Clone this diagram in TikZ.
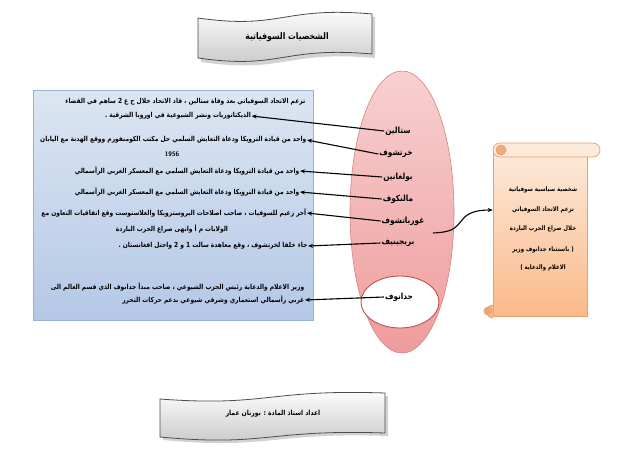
\documentclass[tikz,border=0pt]{standalone}
\usepackage{fontspec}
\usepackage{graphicx}
\usetikzlibrary{arrows.meta,shapes.geometric,calc}
\newfontfamily\arabicfont[Script=Arabic]{DejaVu Sans Bold}
\TeXXeTstate=1
\newcommand{\ar}[1]{\scalebox{0.86}[1]{\arabicfont\beginR #1\endR}}
\definecolor{boxtop}{HTML}{DCE6F2}
\definecolor{boxbot}{HTML}{B4C8E6}
\definecolor{boxline}{HTML}{95B3D7}
\definecolor{elltop}{HTML}{F8D0D0}
\definecolor{ellbot}{HTML}{EE9C9C}
\definecolor{ellline}{HTML}{C0504D}
\definecolor{scrtop}{HTML}{FDEADA}
\definecolor{scrbot}{HTML}{FAB98A}
\definecolor{scrline}{HTML}{E8A070}
\tikzset{
  boxtext/.style={font=\fontsize{6.9}{8}\selectfont, inner sep=0.5pt},
  nametext/.style={font=\fontsize{8.5}{9}\selectfont, inner sep=1pt},
  scrtext/.style={font=\fontsize{6.3}{7}\selectfont, inner sep=0.5pt},
  conn/.style={-{Stealth[length=5pt,width=4pt]}, line width=1.1pt, black},
  bannerfill/.style={top color=white, bottom color=gray!45, draw=gray!60!black, line width=0.8pt}
}
\begin{document}
\begin{tikzpicture}[x=1pt,y=-1pt]
\useasboundingbox (0,0) rectangle (640,448);
\fill[white] (0,0) rectangle (640,448);

% title banner
\fill[gray!35] (201,21) .. controls (285,33) and (285,9) .. (375,17) -- (375,58) .. controls (285,50) and (285,74) .. (201,62) -- cycle;
\path[bannerfill] (198,18) .. controls (282,30) and (282,6) .. (372,14) -- (372,54) .. controls (282,46) and (282,70) .. (198,58) -- cycle;
\node[font=\fontsize{9}{10}\selectfont] (title) at (287,37) {\ar{الشخصيات السوفياتية}};

% bottom banner
\fill[gray!35] (163,402) .. controls (270,410) and (270,392) .. (388,396) -- (388,436) .. controls (270,432) and (270,450) .. (163,440) -- cycle;
\path[bannerfill] (160,399) .. controls (267,407) and (267,389) .. (385,393) -- (385,433) .. controls (267,429) and (267,447) .. (160,437) -- cycle;
\node[font=\fontsize{7}{8}\selectfont] (author) at (273,414) {\ar{اعداد استاذ المادة : بورنان عمار}};

% blue box
\path[top color=boxtop, bottom color=boxbot, draw=boxline, line width=0.8pt] (33,90) rectangle (313,320);

% box texts
\node[boxtext, anchor=east] (t1) at (306,102) {\ar{تزعم الاتحاد السوفياتي بعد وفاة ستالين ، قاد الاتحاد خلال ح ع 2 ساهم في القضاء}};
\node[boxtext] (t1b) at (178,116) {\ar{الديكتاتوريات ونشر الشيوعية في اوروبا الشرقية .}};
\node[boxtext, anchor=east] (t2) at (307,140) {\ar{واحد من قيادة الترويكا ودعاة التعايش السلمي حل مكتب الكومنفورم ووقع الهدنة مع اليابان}};
\node[boxtext, font=\fontsize{6.5}{7}\selectfont\bfseries\sffamily] (t2b) at (172,154) {1956};
\node[boxtext, anchor=east] (t3) at (300,171) {\ar{واحد من قيادة الترويكا ودعاة التعايش السلمي مع المعسكر الغربي الرأسمالي}};
\node[boxtext, anchor=east] (t4) at (300,192) {\ar{واحد من قيادة الترويكا ودعاة التعايش السلمي مع المعسكر الغربي الرأسمالي}};
\node[boxtext, anchor=east] (t5) at (307,213) {\ar{آخر زعيم للسوفيات ، صاحب اصلاحات البروسترويكا والغلاسنوست وقع اتفاقيات التعاون مع}};
\node[boxtext] (t5b) at (172,229) {\ar{الولايات م أ وانهى صراع الحرب الباردة}};
\node[boxtext, anchor=east] (t6) at (308,246) {\ar{جاء خلفا لخرتشوف ، وقع معاهدة سالت 1 و 2 واحتل افغانستان .}};
\node[boxtext, anchor=east] (t7) at (305,287) {\ar{وزير الاعلام والدعاية رئيس الحزب الشيوعي ، صاحب مبدأ جدانوف الذي قسم العالم الى}};
\node[boxtext, anchor=east] (t7b) at (305,300) {\ar{غربي رأسمالي استعماري وشرقي شيوعي بدعم حركات التحرر}};

% pink ellipse
\node[ellipse, minimum width=104pt, minimum height=282pt, top color=elltop, bottom color=ellbot, draw=ellline!70, line width=0.6pt] (ell) at (402,212) {};
\node[ellipse, minimum width=78pt, minimum height=52pt, fill=white, draw=ellline, line width=0.9pt] (inner) at (400,302) {};

% names
\node[nametext] (n1) at (398,131) {\ar{ستالين}};
\node[nametext] (n2) at (396,154) {\ar{خرتشوف}};
\node[nametext] (n3) at (398,177) {\ar{بولغانين}};
\node[nametext] (n4) at (398,199) {\ar{مالنكوف}};
\node[nametext] (n5) at (403,221) {\ar{غورباتشوف}};
\node[nametext] (n6) at (398,243) {\ar{بريجينيف}};
\node[nametext] (n7) at (399,297) {\ar{جدانوف}};

% arrows
\draw[conn] (n1.west) -- (t1b.east);
\draw[conn] (n2.west) -- (t2.east);
\draw[conn] (n3.west) -- (t3.east);
\draw[conn] (n4.west) -- (t4.east);
\draw[conn] (n5.west) -- (t5.east);
\draw[conn] (n6.west) -- (t6.east);
\draw[conn] (n7.west) -- (t7b.east);

% scroll
\path[top color=scrtop, bottom color=scrbot, draw=scrline, line width=0.7pt] (493,150) rectangle (587,316);
\node[inner sep=0pt, minimum width=94pt, minimum height=166pt] (scroll) at (540,233) {};
\path[fill=scrtop, draw=scrline, line width=0.7pt, rounded corners=7pt] (493,143) rectangle (600,157);
\fill[scrbot!80!brown] (501,150) circle (5pt);
\draw[scrline, line width=0.7pt] (501,150) circle (5pt);
\path[fill=scrbot, draw=scrline, line width=0.7pt] (493,305) arc (90:270:6.5pt) -- (493,318);
\fill[scrbot!70!brown] (488,311) circle (4.5pt);

\node[scrtext] (s1) at (543,190) {\ar{شخصية سياسية سوفياتية}};
\node[scrtext] (s2) at (543,210) {\ar{تزعم الاتحاد السوفياتي}};
\node[scrtext] (s3) at (543,229) {\ar{خلال صراع الحرب الباردة}};
\node[scrtext] (s4) at (543,250) {\ar{( باستثناء جدانوف وزير}};
\node[scrtext] (s5) at (543,268) {\ar{الاعلام والدعاية )}};

% curved connector
\coordinate (c0) at (433,233);
\draw[conn] (c0) .. controls (452,232) and (455,229) .. (462,220) .. controls (468,212) and (478,210) .. (scroll.west |- s2);
\end{tikzpicture}
\end{document}
